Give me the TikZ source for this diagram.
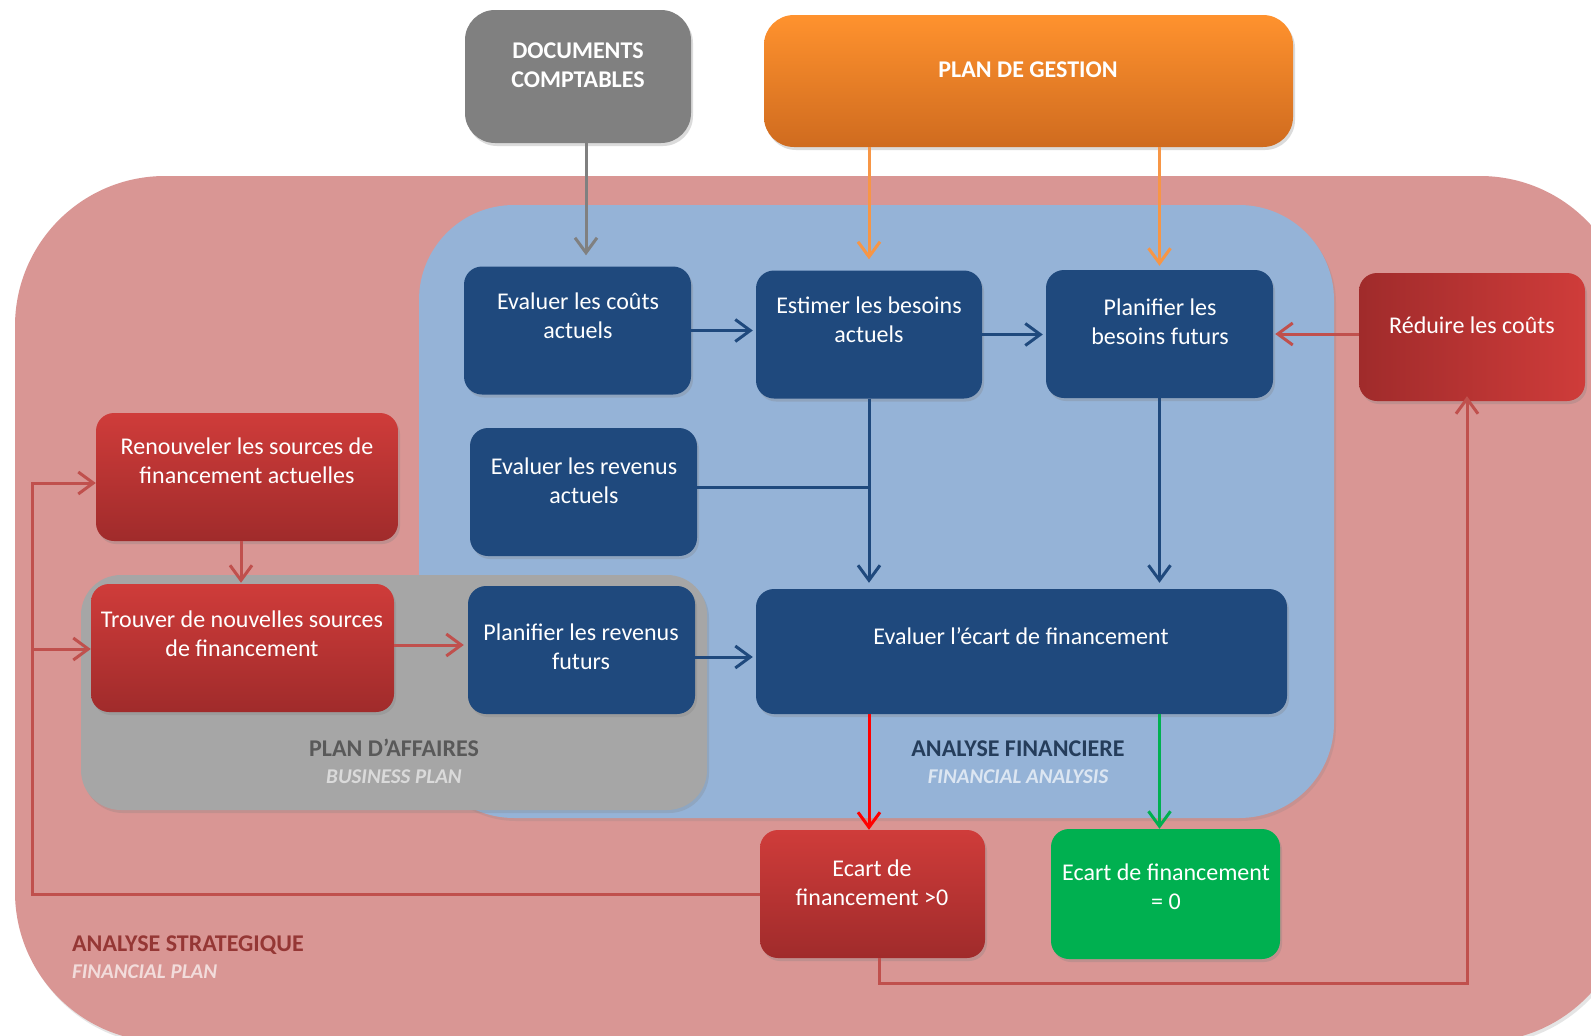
\documentclass[tikz,border=0pt]{standalone}
\usepackage{fontspec}
\setmainfont{Carlito}
\usetikzlibrary{arrows.meta,shadows}
\definecolor{pinkbg}{HTML}{D99694}
\definecolor{bluebg}{HTML}{95B3D7}
\definecolor{graybg}{HTML}{A6A6A6}
\definecolor{navy}{HTML}{1F497D}
\definecolor{redtop}{HTML}{CF3C3A}
\definecolor{redbot}{HTML}{A02B2B}
\definecolor{orangetop}{HTML}{FF922E}
\definecolor{orangebot}{HTML}{CF6B1F}
\definecolor{docgray}{HTML}{808080}
\definecolor{okgreen}{HTML}{00B050}
\definecolor{redline}{HTML}{C0504D}
\definecolor{orangeline}{HTML}{F79646}
\definecolor{capgray}{HTML}{595959}
\definecolor{capgraylt}{HTML}{DADADA}
\definecolor{capblue}{HTML}{253D5B}
\definecolor{capbluelt}{HTML}{DCE6F2}
\definecolor{capred}{HTML}{953735}
\definecolor{capredlt}{HTML}{F2DCDB}
\begin{document}
\begin{tikzpicture}[x=1pt,y=-1pt,
  shad/.style={drop shadow={shadow xshift=2pt,shadow yshift=-3pt,opacity=0.28}},
  box/.style={rounded corners=18pt,inner sep=0pt,minimum width=227pt,minimum height=128pt,shad},
  bluebox/.style={box,fill=navy},
  redbox/.style={box,top color=redtop,bottom color=redbot},
  txt/.style={text=white,font=\fontsize{24}{29}\selectfont,align=center,anchor=base,inner sep=0pt},
  btxt/.style={txt,font=\fontsize{24}{29}\selectfont\bfseries},
  captxt/.style={font=\fontsize{24}{27}\selectfont\bfseries,anchor=base,inner sep=0pt},
  capittxt/.style={font=\fontsize{21}{27}\selectfont\bfseries\itshape,anchor=base,inner sep=0pt},
  conn/.style={line width=3pt,-{Straight Barb[length=15pt,width=22pt]}},
  plainline/.style={line width=3pt}
]
\clip (0,0) rectangle (1591,1036);
\fill[white] (0,0) rectangle (1591,1036);
% regions
\path[fill=pinkbg,rounded corners=150pt,drop shadow={shadow xshift=2pt,shadow yshift=-3pt,opacity=0.2}] (15,176) rectangle (1630,1042);
\path[fill=bluebg,rounded corners=95pt,drop shadow={shadow xshift=2pt,shadow yshift=-3pt,opacity=0.2}] (419,205) rectangle (1334,818);
\path[fill=graybg,rounded corners=40pt,drop shadow={shadow xshift=2pt,shadow yshift=-3pt,opacity=0.25}] (81,575) rectangle (707,810);

% top boxes
\node[box,rounded corners=30pt,fill=docgray,minimum width=226pt,minimum height=133pt] (docs) at (578,76.5) {};
\node[box,rounded corners=30pt,top color=orangetop,bottom color=orangebot,minimum width=529pt,minimum height=132pt] (plan) at (1028.5,81) {};

% inner boxes
\node[bluebox] (b1) at (577.5,330.5) {};
\node[bluebox,minimum width=226pt] (b2) at (869,334.5) {};
\node[bluebox] (b3) at (1159.5,334) {};
\node[box,left color=redbot,right color=redtop,minimum width=226pt] (red) at (1472,337) {};
\node[redbox,minimum width=302pt] (r1) at (247,477) {};
\node[bluebox] (b5) at (583.5,492) {};
\node[redbox,minimum width=303pt] (t1) at (242.5,648) {};
\node[bluebox] (b8) at (581.5,650) {};
\node[bluebox,minimum width=531pt,minimum height=125pt] (e) at (1021.5,651.5) {};
\node[redbox,minimum width=225pt] (e1) at (872.5,894) {};
\node[box,fill=okgreen,minimum width=229pt,minimum height=130pt] (e2) at (1165.5,894) {};

% texts (two-line texts: y is the baseline of the last line)
\node[btxt] (docst) at (578,87) {DOCUMENTS\\COMPTABLES};
\node[btxt] (plant) at (1028,77) {PLAN DE GESTION};
\node[txt] (b1t) at (578,338) {Evaluer les coûts\\actuels};
\node[txt] (b2t) at (869,342) {Estimer les besoins\\actuels};
\node[txt] (b3t) at (1160,344) {Planifier les\\besoins futurs};
\node[txt] (redt) at (1472,333) {Réduire les coûts};
\node[txt] (r1t) at (247,483) {Renouveler les sources de\\financement actuelles};
\node[txt] (b5t) at (584,503) {Evaluer les revenus\\actuels};
\node[txt] (t1t) at (242,656) {Trouver de nouvelles sources\\de financement};
\node[txt] (b8t) at (581,669) {Planifier les revenus\\futurs};
\node[txt] (et) at (1021,644) {Evaluer l’écart de financement};
\node[txt] (e1t) at (872,905) {Ecart de\\financement >0};
\node[txt] (e2t) at (1166,909) {Ecart de financement\\= 0};

% captions
\node[captxt,text=capgray] (c1) at (394,756) {PLAN D’AFFAIRES};
\node[capittxt,text=capgraylt] (c1b) at (394,783) {BUSINESS PLAN};
\node[captxt,text=capblue] (c2) at (1018,756) {ANALYSE FINANCIERE};
\node[capittxt,text=capbluelt] (c2b) at (1018,783) {FINANCIAL ANALYSIS};
\node[captxt,text=capred,anchor=base west] (c3) at (72,951) {ANALYSE STRATEGIQUE};
\node[capittxt,text=capredlt,anchor=base west] (c3b) at (72,978) {FINANCIAL PLAN};

% connectors
\draw[conn,docgray,shorten >=11pt] ([xshift=8pt]docs.south) -- ([xshift=8pt]docs.south |- b1.north);
\draw[conn,orangeline,shorten >=11pt] (b2.north |- plan.south) -- (b2.north);
\draw[conn,orangeline,shorten >=4pt] (b3.north |- plan.south) -- (b3.north);
\draw[conn,navy,shorten >=3pt] (b1.east) -- (b1.east -| b2.west);
\draw[conn,navy,shorten >=3pt] (b2.east) -- (b2.east -| b3.west);
\draw[conn,redline,shorten >=2pt] (red.west |- b3.east) -- (b3.east);
\draw[conn,navy,shorten >=6pt] (b2.south) -- (b2.south |- e.north);
\draw[conn,navy,shorten >=6pt] (b3.south) -- (b3.south |- e.north);
\draw[plainline,navy] ([yshift=5pt]b5.east) -- ([yshift=5pt]b5.east -| b2.south);
\draw[conn,navy,shorten >=3pt] ([yshift=-7pt]b8.east) -- ([yshift=-7pt]b8.east -| e.west);
\draw[conn,redline,shorten >=4pt] ([yshift=3pt]t1.east) -- ([yshift=3pt]t1.east -| b8.west);
\draw[conn,redline,shorten >=1pt] ([xshift=-6pt]r1.south) -- ([xshift=-6pt]r1.south |- t1.north);
\draw[conn,red] (e.south -| b2.south) -- (b2.south |- e1.north);
\draw[conn,okgreen] (e.south -| b3.south) -- (b3.south |- e2.north);
\coordinate (L2) at (32,483);
\coordinate (L3) at (32,649);
\draw[conn,redline] (e1.west) -| (L2) -- (L2 -| r1.west);
\draw[conn,redline] (L3) -- (L3 -| t1.west);
\coordinate (B1) at (879,983);
\coordinate (B2) at (1467,983);
\draw[conn,redline,shorten >=-5pt] (B1 |- e1.south) -- (B1) -- (B2) -- (B2 |- red.south);
\end{tikzpicture}
\end{document}
